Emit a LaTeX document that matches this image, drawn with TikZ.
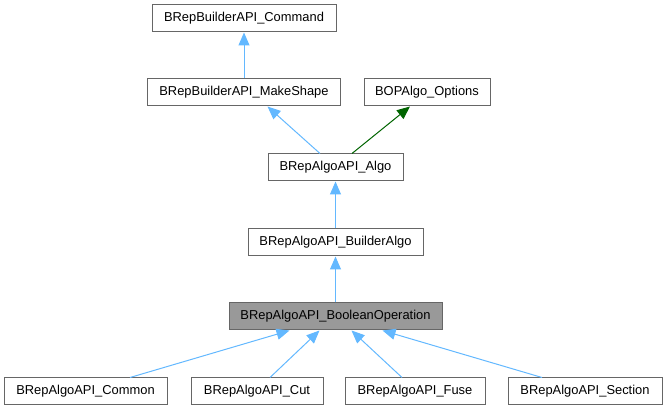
\documentclass[tikz,border=0pt]{standalone}
\usepackage{fontspec}
\setmainfont{Liberation Sans}
\usetikzlibrary{arrows.meta}
\definecolor{edgeblue}{HTML}{63B8FF}
\definecolor{edgegreen}{HTML}{006400}
\definecolor{boxgray}{HTML}{666666}
\definecolor{boolgray}{HTML}{999999}
\tikzset{
    cls/.style={draw=boxgray, fill=white, line width=1pt, minimum height=27pt, inner sep=0pt,
        font=\fontsize{12.9}{14}\selectfont},
    inh/.style={draw=edgeblue, line width=1pt, -{Triangle[length=13pt,width=11pt]}},
    inhg/.style={inh, draw=edgegreen}
}

\begin{document}
\begin{tikzpicture}[x=1pt, y=-1pt]
    \useasboundingbox (0,0) rectangle (667,411);

    \node (cmd) [cls, minimum width=184pt] at (244,18.5) {BRepBuilderAPI\_Command};
    \node (mks) [cls, minimum width=193pt] at (244,92.5) {BRepBuilderAPI\_MakeShape};
    \node (opt) [cls, minimum width=126pt] at (427,92.5) {BOPAlgo\_Options};
    \node (algo) [cls, minimum width=135pt] at (335.5,167.5) {BRepAlgoAPI\_Algo};
    \node (bld) [cls, minimum width=175pt] at (335.5,242.5) {BRepAlgoAPI\_BuilderAlgo};
    \node (bool) [cls, fill=boolgray, minimum width=213pt] at (335.5,316.5) {BRepAlgoAPI\_BooleanOperation};
    \node (com) [cls, minimum width=163pt] at (85.5,391.5) {BRepAlgoAPI\_Common};
    \node (cut) [cls, minimum width=132pt] at (257,391.5) {BRepAlgoAPI\_Cut};
    \node (fuse) [cls, minimum width=140pt] at (415,391.5) {BRepAlgoAPI\_Fuse};
    \node (sec) [cls, minimum width=154pt] at (585,391.5) {BRepAlgoAPI\_Section};

    \draw[inh] (mks) -- (cmd);
    \draw[inh] ([xshift=-15.5pt]algo.north) -- ([xshift=23.5pt]mks.south);
    \draw[inhg] ([xshift=16.5pt]algo.north) -- ([xshift=-17pt]opt.south);
    \draw[inh] (bld) -- (algo);
    \draw[inh] (bool) -- (bld);
    \draw[inh] ([xshift=44.5pt]com.north) -- ([xshift=-46pt]bool.south);
    \draw[inh] ([xshift=13pt]cut.north) -- ([xshift=-16pt]bool.south);
    \draw[inh] ([xshift=-13pt]fuse.north) -- ([xshift=16pt]bool.south);
    \draw[inh] ([xshift=-43pt]sec.north) -- ([xshift=47pt]bool.south);
\end{tikzpicture}
\end{document}
